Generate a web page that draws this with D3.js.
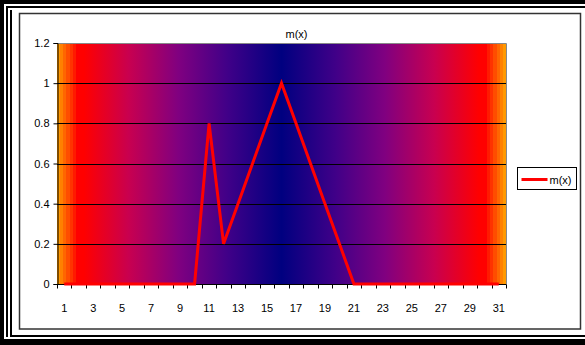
<!DOCTYPE html>
<html>
<head>
<meta charset="utf-8">
<script src="https://cdn.jsdelivr.net/npm/d3@7"></script>
<style>
  html, body { margin: 0; padding: 0; background: #fff; }
  svg { display: block; font-family: "Liberation Sans", Arial, sans-serif; }
</style>
</head>
<body>
<div id="chart"></div>
<script>
// chart data
const categories = [1, 2, 3, 4, 5, 6, 7, 8, 9, 10, 11, 12, 13, 14, 15, 16,
  17, 18, 19, 20, 21, 22, 23, 24, 25, 26, 27, 28, 29, 30, 31];
const values = [0, 0, 0, 0, 0, 0, 0, 0, 0, 0, 0.8, 0.2, 0.4, 0.6, 0.8, 1,
  0.8, 0.6, 0.4, 0.2, 0, 0, 0, 0, 0, 0, 0, 0, 0, 0, 0];
const xTickLabels = [1, 3, 5, 7, 9, 11, 13, 15, 17, 19, 21, 23, 25, 27, 29, 31];
const yTicks = [0, 0.2, 0.4, 0.6, 0.8, 1, 1.2];
const seriesName = 'm(x)';
const chartTitle = 'm(x)';

const width = 585, height = 345;
const plot = { left: 57, right: 506, top: 43, bottom: 284 };

const svg = d3.select('#chart').append('svg')
  .attr('width', width)
  .attr('height', height);

// framed border (cropped screenshot look)
const frame = svg.append('g').attr('class', 'frame').attr('fill', '#000');
frame.append('rect').attr('x', 0).attr('y', 0).attr('width', width).attr('height', 4);
frame.append('rect').attr('x', 6).attr('y', 6).attr('width', width - 6).attr('height', 2);
frame.append('rect').attr('x', 0).attr('y', 0).attr('width', 4).attr('height', height);
frame.append('rect').attr('x', 6).attr('y', 6).attr('width', 2).attr('height', 331);
frame.append('rect').attr('x', 10).attr('y', 10).attr('width', 2).attr('height', 325);
frame.append('rect').attr('x', 10).attr('y', 335).attr('width', width - 10).attr('height', 2);
frame.append('rect').attr('x', 0).attr('y', 339).attr('width', width).attr('height', 6);

// chart area box
svg.append('rect')
  .attr('x', 19.5).attr('y', 13.5)
  .attr('width', 561).attr('height', 315.5)
  .attr('fill', '#fff')
  .attr('stroke', '#333')
  .attr('stroke-width', 1.5);

// plot background gradient (centre style)
const defs = svg.append('defs');
const grad = defs.append('linearGradient')
  .attr('id', 'bg')
  .attr('x1', '0%').attr('x2', '100%')
  .attr('y1', '0%').attr('y2', '0%');

const halfStops = [
  [0.000, '#ff9900'], [0.007, '#ff9900'],
  [0.007, '#ff8000'], [0.014, '#ff8000'],
  [0.014, '#ff6600'], [0.021, '#ff6600'],
  [0.021, '#ff4d00'], [0.028, '#ff4d00'],
  [0.028, '#ff3300'], [0.035, '#ff3300'],
  [0.035, '#ff1a00'], [0.042, '#ff1a00'],
  [0.042, '#ff0000'], [0.06, '#ff0000'],
  [0.16, '#c80050'],
  [0.27, '#800080'],
  [0.38, '#400088'],
  [0.5, '#000080']
];
const allStops = halfStops.concat(halfStops.slice().reverse().map(([o, c]) => [1 - o, c]));
grad.selectAll('stop')
  .data(allStops)
  .join('stop')
  .attr('offset', d => d[0])
  .attr('stop-color', d => d[1]);

// scales
const x = d3.scaleBand()
  .domain(categories)
  .range([plot.left, plot.right])
  .padding(0);

const y = d3.scaleLinear()
  .domain([0, 1.2])
  .range([plot.bottom, plot.top]);

svg.append('rect')
  .attr('x', plot.left).attr('y', plot.top)
  .attr('width', plot.right - plot.left)
  .attr('height', plot.bottom - plot.top)
  .attr('fill', 'url(#bg)');

// grid lines
svg.append('g')
  .selectAll('line')
  .data(yTicks.filter(t => t > 0 && t < 1.2))
  .join('line')
  .attr('x1', plot.left).attr('x2', plot.right)
  .attr('y1', d => Math.round(y(d)) + 0.5)
  .attr('y2', d => Math.round(y(d)) + 0.5)
  .attr('stroke', '#000')
  .attr('stroke-width', 1);

// plot border (top/right gray)
svg.append('path')
  .attr('d', `M${plot.left},${plot.top + 0.5}H${plot.right + 0.5}V${plot.bottom}`)
  .attr('fill', 'none')
  .attr('stroke', '#888')
  .attr('stroke-width', 1);

// y axis
const yAxis = d3.axisLeft(y)
  .tickValues(yTicks)
  .tickSize(4)
  .tickPadding(4)
  .tickFormat(d => d3.format('~g')(d));

svg.append('g')
  .attr('transform', `translate(${plot.left + 0.5},0)`)
  .call(yAxis)
  .call(g => g.selectAll('text').attr('font-size', 11).attr('fill', '#000')
    .attr('font-family', '"Liberation Sans", Arial, sans-serif'))
  .call(g => g.selectAll('line, path').attr('stroke', '#000'));

// x axis: ticks at category boundaries
const xAxisG = svg.append('g')
  .attr('transform', `translate(0,${plot.bottom + 0.5})`);

xAxisG.append('line')
  .attr('x1', plot.left).attr('x2', plot.right + 0.5)
  .attr('stroke', '#000');

const boundaries = categories.map(c => x(c)).concat([x(categories[categories.length - 1]) + x.bandwidth()]);
xAxisG.selectAll('.tick-mark')
  .data(boundaries)
  .join('line')
  .attr('class', 'tick-mark')
  .attr('x1', d => Math.round(d) + 0.5)
  .attr('x2', d => Math.round(d) + 0.5)
  .attr('y1', 0).attr('y2', 4)
  .attr('stroke', '#000');

xAxisG.selectAll('.tick-label')
  .data(xTickLabels)
  .join('text')
  .attr('class', 'tick-label')
  .attr('x', d => x(d) + x.bandwidth() / 2)
  .attr('y', 27)
  .attr('text-anchor', 'middle')
  .attr('font-size', 11)
  .attr('fill', '#000')
  .text(d => d);

// series line
const line = d3.line()
  .x((d, i) => x(categories[i]) + x.bandwidth() / 2)
  .y(d => y(d));

svg.append('path')
  .datum(values)
  .attr('d', line)
  .attr('fill', 'none')
  .attr('stroke', '#ff0000')
  .attr('stroke-width', 3)
  .attr('stroke-linejoin', 'miter');

// title
svg.append('text')
  .attr('x', (plot.left + plot.right) / 2 + 15)
  .attr('y', 38)
  .attr('text-anchor', 'middle')
  .attr('font-size', 11)
  .attr('fill', '#000')
  .text(chartTitle);

// legend
const legend = svg.append('g').attr('transform', 'translate(517.5,167.5)');
legend.append('rect')
  .attr('width', 59).attr('height', 22)
  .attr('fill', '#fff')
  .attr('stroke', '#000');
legend.append('line')
  .attr('x1', 4).attr('x2', 30)
  .attr('y1', 12).attr('y2', 12)
  .attr('stroke', '#ff0000')
  .attr('stroke-width', 3);
legend.append('text')
  .attr('x', 32).attr('y', 16)
  .attr('font-size', 11)
  .attr('fill', '#000')
  .text(seriesName);
</script>
</body>
</html>
